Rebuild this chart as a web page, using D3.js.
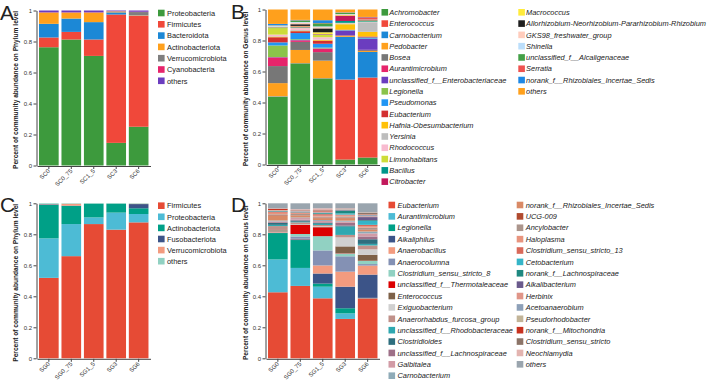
<!DOCTYPE html>
<html lang="en">
  <head>
    <meta charset="utf-8">
    <title>Community abundance</title>
    <script type="text/javascript" src="https://cdn.jsdelivr.net/npm/d3@7"></script>
    <style>
      body { margin: 0; background: #fff; }
      text { font-family: "Liberation Sans", Arial, Helvetica, sans-serif; fill: #222; }
      .tick text { font-size: 6px; fill: #333; }
      .xlab { font-size: 6px; fill: #333; }
      .ytitle { font-size: 6.6px; font-weight: bold; }
      .legend text { font-size: 7.4px; }
      .letter { font-size: 21px; }
    </style>
  </head>
  <body>
    <script>

        var w = 709;
        var h = 380;

        var samplesSC = ["SC0", "SC0_75", "SC1_5", "SC3", "SC6"];
        var samplesSG = ["SG0", "SG0_75", "SG1_5", "SG3", "SG6"];
        var yTicks = [0, 0.2, 0.4, 0.6, 0.8, 1];

        // panel A - phylum level (values per taxon, one per sample)
        var taxaA = ["Proteobacteria", "Firmicutes", "Bacteroidota", "Actinobacteriota",
                     "Verrucomicrobiota", "Cyanobacteria", "others"];
        var colorsA = ["#3d9a3d", "#f0483a", "#1c88d6", "#ffa01c", "#7f7f7f", "#e6246b", "#6b3dbf"];
        var valuesA = [
          [0.763, 0.813, 0.707, 0.146, 0.250],
          [0.063, 0.049, 0.106, 0.828, 0.716],
          [0.088, 0.086, 0.112, 0.014, 0.002],
          [0.071, 0.037, 0.060, 0.005, 0.002],
          [0.003, 0.003, 0.003, 0.002, 0.020],
          [0.002, 0.002, 0.002, 0.001, 0.002],
          [0.010, 0.010, 0.010, 0.004, 0.008]
        ];

        // panel B - genus level
        var taxaB = ["Achromobacter", "Enterococcus", "Carnobacterium", "Pedobacter", "Bosea",
                     "Aurantimicrobium", "unclassified_f__Enterobacteriaceae", "Legionella",
                     "Pseudomonas", "Eubacterium", "Hafnia-Obesumbacterium", "Yersinia",
                     "Rhodococcus", "Limnohabitans", "Bacillus", "Citrobacter", "Macrococcus",
                     "Allorhizobium-Neorhizobium-Pararhizobium-Rhizobium", "GKS98_freshwater_group",
                     "Shinella", "unclassified_f__Alcaligenaceae", "Serratia",
                     "norank_f__Rhizobiales_Incertae_Sedis", "others"];
        var colorsB = ["#3d9a3d", "#f0483a", "#1c88d6", "#ffa01c", "#777777", "#e6246b", "#6b3dbf",
                       "#8bc34a", "#2196f3", "#d32f2f", "#ffc107", "#bdbdbd", "#f8bbd0", "#cddc39",
                       "#00968a", "#c2185b", "#ffeb3b", "#1e1e1e", "#ffccbc", "#bbdefb", "#43a047",
                       "#ef5350", "#1e88e5", "#ffa01c"];
        var valuesB = [
          [0.437, 0.652, 0.555, 0.032, 0.045],
          [0.001, 0.001, 0.001, 0.516, 0.516],
          [0.002, 0.001, 0.001, 0.276, 0.165],
          [0.085, 0.085, 0.113, 0.005, 0.006],
          [0.110, 0.052, 0.055, 0.004, 0.006],
          [0.056, 0.010, 0.022, 0.002, 0.002],
          [0.002, 0.002, 0.002, 0.028, 0.070],
          [0.075, 0.005, 0.005, 0.001, 0.002],
          [0.020, 0.040, 0.025, 0.003, 0.008],
          [0.033, 0.012, 0.020, 0.003, 0.006],
          [0.004, 0.003, 0.004, 0.035, 0.030],
          [0.003, 0.005, 0.003, 0.005, 0.062],
          [0.010, 0.012, 0.015, 0.002, 0.002],
          [0.042, 0.003, 0.015, 0.002, 0.002],
          [0.003, 0.003, 0.002, 0.012, 0.004],
          [0.002, 0.005, 0.003, 0.035, 0.002],
          [0.002, 0.003, 0.012, 0.004, 0.002],
          [0.001, 0.011, 0.025, 0.001, 0.002],
          [0.002, 0.010, 0.008, 0.003, 0.001],
          [0.006, 0.004, 0.005, 0.002, 0.001],
          [0.002, 0.010, 0.020, 0.008, 0.001],
          [0.001, 0.002, 0.002, 0.002, 0.015],
          [0.008, 0.002, 0.018, 0.001, 0.002],
          [0.093, 0.067, 0.069, 0.018, 0.048]
        ];

        // panel C - phylum level
        var taxaC = ["Firmicutes", "Proteobacteria", "Actinobacteriota", "Fusobacteriota",
                     "Verrucomicrobiota", "others"];
        var colorsC = ["#e64b35", "#4dbbd5", "#00a087", "#3c5488", "#f39b7f", "#91d1c2"];
        var valuesC = [
          [0.519, 0.659, 0.866, 0.830, 0.877],
          [0.255, 0.207, 0.043, 0.110, 0.054],
          [0.215, 0.117, 0.089, 0.058, 0.037],
          [0.004, 0.002, 0.000, 0.000, 0.027],
          [0.002, 0.012, 0.000, 0.000, 0.002],
          [0.005, 0.003, 0.002, 0.002, 0.003]
        ];

        // panel D - genus level
        var taxaD = ["Eubacterium", "Aurantimicrobium", "Legionella", "Alkaliphilus", "Anaerobacillus",
                     "Anaerocolumna", "Clostridium_sensu_stricto_8", "unclassified_f__Thermotaleaceae",
                     "Enterococcus", "Exiguobacterium", "Anaerorhabdus_furcosa_group",
                     "unclassified_f__Rhodobacteraceae", "Clostridioides", "unclassified_f__Lachnospiraceae",
                     "Galbitalea", "Carnobacterium", "norank_f__Rhizobiales_Incertae_Sedis", "UCG-009",
                     "Ancylobacter", "Haloplasma", "Clostridium_sensu_stricto_13", "Cetobacterium",
                     "norank_f__Lachnospiraceae", "Alkalibacterium", "Herbinix", "Acetoanaerobium",
                     "Pseudorhodobacter", "norank_f__Mitochondria", "Clostridium_sensu_stricto",
                     "Neochlamydia", "others"];
        var colorsD = ["#e64b35", "#4dbbd5", "#00a087", "#3c5488", "#f39b7f", "#8491b4", "#91d1c2",
                       "#dc0000", "#7e6148", "#d0d0d0", "#c0918a", "#2fa8b0", "#2e6e7e", "#9e7088",
                       "#d29ba6", "#8fabb8", "#d98a66", "#b04a2e", "#ab958c", "#e8947e", "#d9695a",
                       "#35b5c8", "#1e8880", "#6a5a8c", "#e09588", "#8da0b8", "#c2b498", "#c83220",
                       "#8c7468", "#e3b4b0", "#9aa5ae"];
        var valuesD = [
          [0.426, 0.467, 0.387, 0.254, 0.387],
          [0.212, 0.116, 0.075, 0.036, 0.002],
          [0.170, 0.180, 0.020, 0.033, 0.001],
          [0.002, 0.005, 0.065, 0.139, 0.150],
          [0.004, 0.003, 0.052, 0.097, 0.058],
          [0.002, 0.015, 0.097, 0.099, 0.010],
          [0.002, 0.016, 0.092, 0.018, 0.020],
          [0.001, 0.058, 0.057, 0.002, 0.002],
          [0.007, 0.002, 0.003, 0.044, 0.038],
          [0.002, 0.003, 0.004, 0.058, 0.035],
          [0.025, 0.012, 0.008, 0.016, 0.025],
          [0.008, 0.004, 0.008, 0.054, 0.010],
          [0.012, 0.008, 0.006, 0.006, 0.030],
          [0.005, 0.006, 0.004, 0.018, 0.018],
          [0.005, 0.010, 0.008, 0.008, 0.020],
          [0.006, 0.004, 0.006, 0.006, 0.012],
          [0.030, 0.012, 0.012, 0.016, 0.010],
          [0.004, 0.002, 0.004, 0.003, 0.003],
          [0.006, 0.008, 0.006, 0.008, 0.012],
          [0.010, 0.006, 0.006, 0.006, 0.010],
          [0.005, 0.004, 0.010, 0.006, 0.008],
          [0.002, 0.002, 0.003, 0.008, 0.025],
          [0.003, 0.002, 0.005, 0.018, 0.005],
          [0.001, 0.001, 0.002, 0.003, 0.020],
          [0.003, 0.002, 0.003, 0.003, 0.005],
          [0.001, 0.002, 0.002, 0.002, 0.008],
          [0.002, 0.002, 0.002, 0.002, 0.004],
          [0.008, 0.002, 0.006, 0.001, 0.002],
          [0.002, 0.002, 0.003, 0.002, 0.010],
          [0.002, 0.006, 0.012, 0.002, 0.002],
          [0.032, 0.038, 0.032, 0.032, 0.058]
        ];

        var mySvg = d3.select("body")
                      .append("svg")
                      .attr("width", w)
                      .attr("height", h);

        function drawPanel(p) {
          var g = mySvg.append("g");

          var rows = p.samples.map(function(s, j) {
            var r = { sample: s };
            p.taxa.forEach(function(t, i) { r[t] = p.values[i][j]; });
            return r;
          });
          var series = d3.stack().keys(p.taxa)(rows);

          var xScale = d3.scaleBand()
                         .domain(p.samples)
                         .range([p.x0, p.x0 + 113.5])
                         .paddingInner(0.125)
                         .paddingOuter(0.09);
          var yScale = d3.scaleLinear()
                         .domain([0, 1])
                         .range([p.y0, p.y1]);

          g.selectAll("g.series")
           .data(series)
           .enter()
           .append("g")
           .attr("class", "series")
           .style("fill", function(d, i) { return p.colors[i]; })
           .selectAll("rect")
           .data(function(d) { return d; })
           .enter()
           .append("rect")
           .attr("x", function(d) { return xScale(d.data.sample); })
           .attr("y", function(d) { return yScale(d[1]); })
           .attr("height", function(d) { return yScale(d[0]) - yScale(d[1]); })
           .attr("width", xScale.bandwidth());

          var yAxis = g.append("g")
                       .attr("transform", "translate(" + (p.x0 - 0.5) + ",0)")
                       .call(d3.axisLeft(yScale).tickValues(yTicks)
                               .tickFormat(d3.format("~g")).tickSize(3).tickSizeOuter(0));
          var xAxis = g.append("g")
                       .attr("transform", "translate(0," + (p.y0 + 0.5) + ")")
                       .call(d3.axisBottom(xScale).tickSize(3).tickSizeOuter(0));
          g.selectAll(".domain, .tick line").attr("stroke", "#444");
          yAxis.selectAll("text").attr("x", -4.5);

          // rotated sample labels
          xAxis.selectAll("text").remove();
          xAxis.selectAll(".tick")
               .append("text")
               .attr("class", "xlab")
               .attr("text-anchor", "end")
               .attr("transform", "translate(1.5,5.5) rotate(-45)")
               .text(function(d) { return d; });

          g.append("text")
           .attr("class", "ytitle")
           .attr("text-anchor", "middle")
           .attr("transform", "translate(" + p.titleX + "," + ((p.y0 + p.y1) / 2 + 2) + ") rotate(-90)")
           .text(p.title);

          g.append("text")
           .attr("class", "letter")
           .attr("x", p.letterX)
           .attr("y", p.y1 + 9)
           .text(p.letter);

          var leg = g.append("g").attr("class", "legend");
          var items = leg.selectAll("g")
                         .data(p.taxa)
                         .enter()
                         .append("g")
                         .attr("transform", function(d, i) {
                           var col = Math.floor(i / p.perCol);
                           var row = i % p.perCol;
                           return "translate(" + p.legX[col] + "," + (p.legY + row * p.legDy) + ")";
                         });
          items.append("rect")
               .attr("x", 0)
               .attr("y", -3.3)
               .attr("width", 6.6)
               .attr("height", 6.6)
               .style("fill", function(d, i) { return p.colors[i]; });
          items.append("text")
               .attr("x", p.legGap)
               .attr("y", 2.7)
               .style("font-style", p.italic ? "italic" : "normal")
               .text(function(d) { return d; });
        }

        drawPanel({ letter: "A", letterX: 0, x0: 37, y0: 165.5, y1: 10.5, titleX: 17.5,
                    title: "Percent of community abundance on Phylum level",
                    samples: samplesSC, taxa: taxaA, colors: colorsA, values: valuesA,
                    legX: [158], legY: 13, legDy: 11.3, perCol: 16, legGap: 9, italic: false });

        drawPanel({ letter: "B", letterX: 231, x0: 266, y0: 164.5, y1: 9.5, titleX: 248.3,
                    title: "Percent of community abundance on Genus level",
                    samples: samplesSC, taxa: taxaB, colors: colorsB, values: valuesB,
                    legX: [381.5, 518.3], legY: 12.3, legDy: 11.29, perCol: 16, legGap: 7.8, italic: true });

        drawPanel({ letter: "C", letterX: 0, x0: 37, y0: 358.3, y1: 203.3, titleX: 17.5,
                    title: "Percent of community abundance on Phylum level",
                    samples: samplesSG, taxa: taxaC, colors: colorsC, values: valuesC,
                    legX: [158], legY: 205.7, legDy: 11.1, perCol: 16, legGap: 9, italic: false });

        drawPanel({ letter: "D", letterX: 231, x0: 266, y0: 358.3, y1: 203.3, titleX: 248.3,
                    title: "Percent of community abundance on Genus level",
                    samples: samplesSG, taxa: taxaD, colors: colorsD, values: valuesD,
                    legX: [388.5, 516.7], legY: 205, legDy: 11.38, perCol: 16, legGap: 9, italic: true });

    </script>
  </body>
</html>
